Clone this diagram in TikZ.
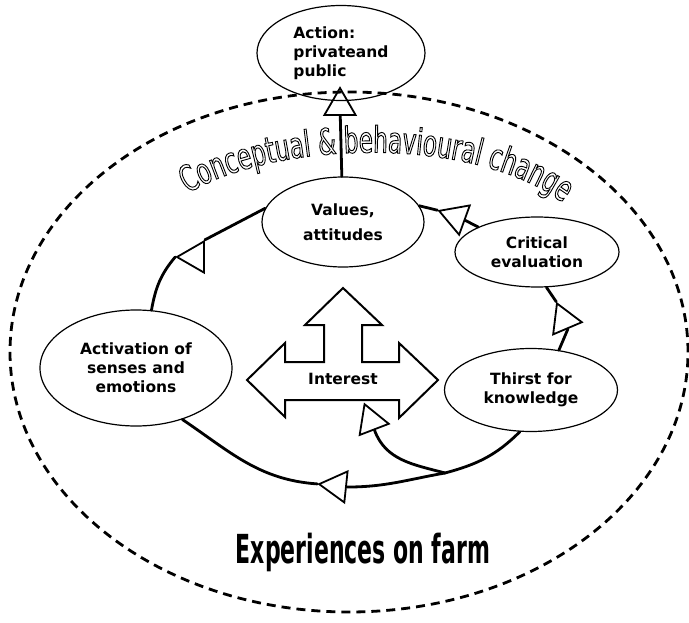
\documentclass[tikz,border=0pt]{standalone}
\usepackage{fontspec}
\usetikzlibrary{shapes.geometric, decorations.text}

\newfontfamily\lblfont{DejaVu Sans}
\newfontfamily\artfont{DejaVu Sans}[FakeStretch=0.64]
\newfontfamily\farmfont{DejaVu Sans}[FakeStretch=0.55]
% 描边文字
\newcommand{\strokeon}{\special{pdf:literal direct 1 Tr 0.9 w}}

\begin{document}
\begin{tikzpicture}[
    x=1pt, y=-1pt,
    every node/.style={align=center},
    bubble_node/.style 2 args={
        ellipse,
        draw,
        line width=1.2pt,
        inner sep=0pt,
        minimum width=#1,
        minimum height=#2,
        font=\lblfont\bfseries\fontsize{15.5}{19}\selectfont
    },
    tri_mark/.style={
        regular polygon,
        regular polygon sides=3,
        draw,
        line width=1.8pt,
        minimum size=36pt,
        inner sep=0pt,
        rotate=#1
    },
    cycle_line/.style = {draw, line width=2.8pt, line cap=round},
    farm_line/.style = {draw, line width=2.8pt, dash pattern=on 9pt off 6pt}
]
    \useasboundingbox (0,0) rectangle (689,623);
    % 农场边界
    \node [farm_line, ellipse, minimum width=678pt, minimum height=520pt, inner sep=0pt] (farm) at (349,352) {};
    \node [font=\farmfont\bfseries\fontsize{40}{40}\selectfont, anchor=base] (exp) at (363,563) {Experiences on farm};
    % 定义节点
    \node [bubble_node={168pt}{95pt}, align=left] (action) at (341,53) {Action:\\privateand\\public};
    \node [bubble_node={162pt}{90pt}] (values) at (343,222) {Values,\\[6pt]attitudes};
    \node [bubble_node={164pt}{70pt}] (crit) at (537,252) {Critical\\evaluation};
    \node [bubble_node={173pt}{83pt}] (thirst) at (531,390) {Thirst for\\knowledge};
    \node [bubble_node={192pt}{116pt}] (act) at (136,368) {Activation of\\senses and\\emotions};
    % 中心箭头
    \draw [line width=2pt] (343,288) -- (382,325) -- (362,325) -- (362,362) -- (399,362) -- (399,343)
        -- (438,380) -- (399,418) -- (399,400) -- (285,400) -- (285,417) -- (247,380)
        -- (285,343) -- (285,362) -- (324,362) -- (324,325) -- (305,325) -- cycle;
    \node [font=\lblfont\bfseries\fontsize{15.5}{19}\selectfont] (interest) at (343,379) {Interest};
    % 三角标记
    \node [tri_mark=0] (tUp) at (340,106) {};
    \node [tri_mark=90] (tLeft) at (195,257) {};
    \node [tri_mark=70] (tTop) at (456,217) {};
    \node [tri_mark=-97] (tRight) at (564,320) {};
    \node [tri_mark=84] (tBottom) at (337,486) {};
    \node [tri_mark=21] (tInt) at (371,421) {};
    \coordinate (j) at (445,473);
    % 画连线
    \draw [cycle_line] (values) -- (tUp);
    \draw [cycle_line] (values.170) -- (tLeft.corner 3);
    \draw [cycle_line] (tLeft.corner 1) to[out=-130, in=80] (act.75);
    \draw [cycle_line] (crit.157) -- (tTop.side 2);
    \draw [cycle_line] (tTop.corner 1) -- (values.12);
    \draw [cycle_line] (crit.-75) -- (tRight.corner 2);
    \draw [cycle_line] (tRight.side 3) -- (thirst.55);
    \draw [cycle_line] (thirst.255) to[out=225, in=15] (j);
    \draw [cycle_line] (j) to[out=190, in=0] (tBottom.side 2);
    \draw [cycle_line] (tBottom.corner 1) to[out=176, in=-34] (act.-48);
    \draw [cycle_line] (j) to[out=165, in=-70] (tInt.side 2);
    % 弯曲文字
    \path [decorate, decoration={text along path, text align=center,
        text={|\artfont\fontsize{36}{36}\selectfont\strokeon|Conceptual {\&} behavioural change}}]
        (178,200) .. controls (260,140) and (480,130) .. (572,210);
\end{tikzpicture}
\end{document}
